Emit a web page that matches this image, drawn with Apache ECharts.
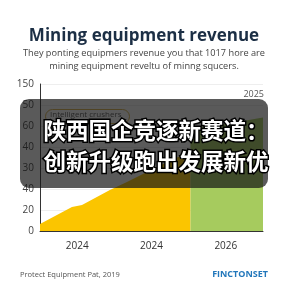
<!DOCTYPE html>
<html>
<head>
<meta charset="utf-8">
<script src="https://cdn.jsdelivr.net/npm/echarts@6/dist/echarts.min.js"></script>
<style>
  html, body { margin: 0; padding: 0; background: #fff; }
  #chart { width: 288px; height: 288px; }
</style>
</head>
<body>
<div id="chart"></div>
<script>
// labels (y ticks are not monotonic in the source)
var yTickLabels = ['0', '20', '40', '30', '40', '60', '50', '150'];
var xTickLabels = { 1: '2024', 3: '2024', 5: '2026' };

// yellow area (x in tick slots 0..6, y in tick steps 0..7)
var yellowX = [0, 0.86, 1.13, 1.88, 2.34, 3.2, 4.05];
var yellowY = [0.33, 1.14, 1.24, 1.95, 2.33, 3.1, 3.8];
// green area
var greenX = [4.05, 5.0, 6.0];
var greenY = [4.9, 5.1, 5.4];

function pairs(xs, ys) {
    return xs.map(function (x, i) { return [x, ys[i]]; });
}

var myChart = echarts.init(document.getElementById('chart'));
var option = {
    backgroundColor: '#ffffff',
    animation: false,
    title: {
        text: 'Mining equipment revenue',
        left: 'center',
        top: 23,
        textStyle: { color: '#1c2f45', fontSize: 17, fontWeight: 'bold', fontFamily: 'Open Sans' }
    },
    grid: { left: 40, right: 25, top: 84, bottom: 57 },
    xAxis: {
        type: 'value',
        min: 0,
        max: 6,
        interval: 1,
        axisLine: { show: true, lineStyle: { color: '#333', width: 1 } },
        axisTick: { show: false },
        splitLine: { show: false },
        axisLabel: {
            color: '#333',
            fontSize: 10,
            margin: 10,
            fontFamily: 'Open Sans',
            formatter: function (v) { return xTickLabels[v] || ''; }
        }
    },
    yAxis: {
        type: 'value',
        min: 0,
        max: 7,
        interval: 1,
        axisLine: { show: true, lineStyle: { color: '#333', width: 1 } },
        axisTick: { show: false },
        splitLine: { show: true, lineStyle: { color: '#eeeeee' } },
        axisLabel: {
            color: '#444',
            fontSize: 10,
            margin: 6,
            fontFamily: 'Open Sans',
            formatter: function (v) { return yTickLabels[v]; }
        }
    },
    series: [{
        type: 'line',
        data: pairs(yellowX, yellowY),
        symbol: 'none',
        lineStyle: { width: 0 },
        areaStyle: { color: '#fbc500', opacity: 1 },
        z: 2
    }, {
        type: 'line',
        data: pairs(greenX, greenY),
        symbol: 'none',
        lineStyle: { width: 0 },
        areaStyle: { color: '#a6cb5e', opacity: 1 },
        z: 2
    }],
    graphic: [{
        type: 'text',
        x: 144, y: 47,
        style: {
            text: 'They ponting equipmers revenue you that 1017 hore are\nmining equipment reveltu of minng squcers.',
            fill: '#444',
            font: '9.2px "Open Sans"',
            align: 'center',
            lineHeight: 13
        }
    }, {
        type: 'text',
        right: 24, top: 90,
        style: { text: '2025', fill: '#555', font: '9px "Open Sans"' }
    }, {
        type: 'rect',
        left: 45, top: 109,
        shape: { width: 84, height: 14, r: 7 },
        style: { fill: '#fff', stroke: '#d9b24a', lineWidth: 1 },
        z: 50
    }, {
        type: 'text',
        left: 50, top: 111,
        style: { text: 'Intelligent crushers', fill: '#555', font: '8px "Open Sans"' },
        z: 51
    }, {
        type: 'rect',
        left: 20, top: 99,
        shape: { width: 248, height: 89, r: 9 },
        style: { fill: 'rgba(20,20,20,0.7)' },
        z: 100
    }, {
        type: 'text',
        left: 42, top: 115,
        style: {
            text: '陕西国企竞逐新赛道：\n创新升级跑出发展新优',
            fill: '#ffffff',
            stroke: '#000000',
            lineWidth: 3,
            font: 'bold 22.5px "Noto Sans CJK SC"',
            lineHeight: 31
        },
        z: 101
    }, {
        type: 'text',
        left: 20, top: 271,
        style: { text: 'Protect Equipment Pat, 2019', fill: '#555', font: '7.5px "Open Sans"' }
    }, {
        type: 'text',
        right: 20, top: 270,
        style: { text: 'FINCTONSET', fill: '#2277bb', font: 'bold 9px "Open Sans"' }
    }]
};
myChart.setOption(option);
</script>
</body>
</html>
